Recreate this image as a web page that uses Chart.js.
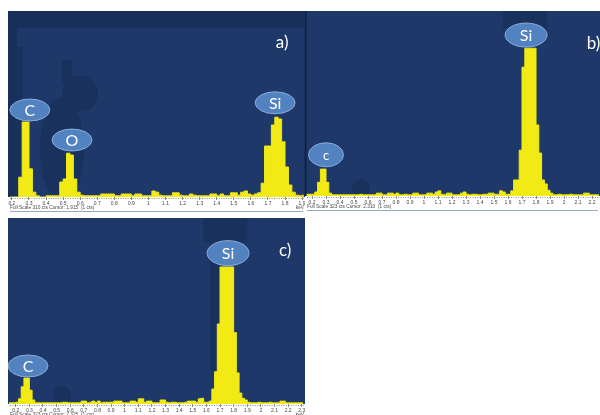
<!DOCTYPE html>
<html>
<head>
<meta charset="utf-8">
<script src="https://cdn.jsdelivr.net/npm/chart.js@4/dist/chart.umd.min.js"></script>
<style>
  html, body { margin: 0; padding: 0; background: #ffffff; }
  body { width: 600px; height: 415px; position: relative; overflow: hidden; }
  .panel { position: absolute; }
  .panel canvas { filter: blur(0.3px); }
</style>
</head>
<body>
<div class="panel" style="left:8px;top:11px;width:297px;height:202px"><canvas id="specA"></canvas></div>
<div class="panel" style="left:305px;top:11px;width:295px;height:201px"><canvas id="specB"></canvas></div>
<div class="panel" style="left:8px;top:218px;width:297px;height:197px"><canvas id="specC"></canvas></div>
<script>
// EDS spectra: counts per 20 eV channel, first channel centre given per spectrum
const CHANNEL_WIDTH = 0.02; // keV

// Spectrum a) — channels 0.19 … 1.91 keV
const aStart = 0.19;
const aCounts = [
  0, 0, 0, 33, 125, 125, 47, 8, 2, 0,
  0, 2, 2, 2, 2, 25, 30, 73, 70, 30,
  8, 3, 2, 2, 2, 2, 2, 5, 5, 5,
  5, 2, 2, 5, 5, 5, 2, 5, 5, 2,
  2, 2, 10, 8, 3, 2, 2, 2, 7, 7,
  3, 2, 2, 5, 3, 2, 2, 2, 2, 5,
  5, 2, 5, 2, 2, 7, 7, 3, 8, 10,
  5, 3, 5, 7, 23, 85, 85, 120, 133, 130,
  92, 50, 20, 8, 3, 2, 3
];

// Spectrum b) — channels 0.15 … 2.25 keV
const bStart = 0.15;
const bCounts = [
  3, 3, 3, 3, 7, 24, 47, 47, 24, 5,
  2, 2, 2, 2, 2, 2, 2, 2, 2, 2,
  3, 2, 2, 2, 2, 2, 5, 5, 2, 2,
  5, 5, 3, 5, 2, 2, 3, 2, 2, 5,
  5, 2, 2, 2, 5, 5, 3, 7, 9, 3,
  2, 5, 5, 2, 2, 2, 5, 7, 3, 2,
  3, 3, 2, 2, 3, 3, 5, 5, 3, 3,
  9, 7, 3, 3, 9, 28, 28, 80, 225, 258,
  258, 258, 258, 124, 75, 28, 21, 10, 5, 2,
  2, 3, 2, 2, 2, 3, 2, 2, 2, 2,
  5, 5, 2, 2, 2, 2
];

// Spectrum c) — channels 0.15 … 2.31 keV
const cStart = 0.15;
const cCounts = [
  2, 2, 2, 3, 9, 30, 45, 45, 24, 7,
  2, 2, 2, 2, 2, 2, 2, 2, 2, 2,
  3, 3, 2, 2, 2, 2, 2, 5, 5, 2,
  3, 5, 3, 5, 2, 3, 3, 3, 3, 5,
  5, 5, 2, 2, 2, 5, 5, 3, 9, 9,
  3, 5, 5, 2, 2, 2, 7, 7, 3, 2,
  3, 3, 2, 2, 2, 3, 5, 5, 5, 3,
  9, 10, 3, 3, 5, 26, 56, 139, 238, 238,
  238, 238, 238, 124, 54, 19, 10, 7, 3, 2,
  2, 2, 3, 2, 2, 2, 3, 2, 2, 2,
  5, 5, 2, 2, 2, 2, 2, 2, 2
];

// Energy axis tick labels (keV)
const aTickLabels = ['0.2','0.3','0.4','0.5','0.6','0.7','0.8','0.9','1','1.1','1.2','1.3','1.4','1.5','1.6','1.7','1.8','1.9'];
const bTickLabels = ['0.2','0.3','0.4','0.5','0.6','0.7','0.8','0.9','1','1.1','1.2','1.3','1.4','1.5','1.6','1.7','1.8','1.9','2','2.1','2.2'];
const cTickLabels = ['0.2','0.3','0.4','0.5','0.6','0.7','0.8','0.9','1','1.1','1.2','1.3','1.4','1.5','1.6','1.7','1.8','1.9','2','2.1','2.2','2.3'];

// Element labels placed at (energy keV, counts)
const aPeakLabels = [
  { text: 'C',  e: 0.305, c: 145 },
  { text: 'O',  e: 0.552, c: 95 },
  { text: 'Si', e: 1.742, c: 157 }
];
const bPeakLabels = [
  { text: 'c',  e: 0.300, c: 72, rx: 17.5, ry: 12, size: 13 },
  { text: 'Si', e: 1.729, c: 281, rx: 21, ry: 12 }
];
const cPeakLabels = [
  { text: 'C',  e: 0.290, c: 66 },
  { text: 'Si', e: 1.759, c: 262, rx: 21, ry: 12.5 }
];

const NAVY = '#1d3869';
const NAVY_DARK = '#172f5a';
const SHADE = '#19315d';
const YELLOW = '#f2ea14';
const BUBBLE = '#5282c0';
const BUBBLE_EDGE = 'rgba(150,182,228,0.85)';
const FONT = 'Lato, "Open Sans", sans-serif';

function channels(start, counts) {
  return counts.map((c, i) => ({ x: +(start + i * CHANNEL_WIDTH).toFixed(3), y: c }));
}

const spectrumDecor = {
  id: 'spectrumDecor',
  beforeDraw(chart, args, opts) {
    const { ctx, chartArea: a, scales: { x, y } } = chart;
    ctx.save();
    ctx.fillStyle = '#ffffff';
    ctx.fillRect(0, 0, chart.width, chart.height);
    ctx.fillStyle = opts.frame ? NAVY_DARK : NAVY;
    ctx.fillRect(a.left, a.top, a.right - a.left, a.bottom - a.top);
    if (opts.frame) {
      const x0 = x.getPixelForValue(opts.frame.e);
      const y0 = y.getPixelForValue(opts.frame.c);
      ctx.fillStyle = NAVY;
      ctx.fillRect(x0, y0, a.right - x0 - 1, a.bottom - y0);
    }
    ctx.restore();
  },
  beforeDatasetsDraw(chart, args, opts) {
    const { ctx, chartArea: a, scales: { x, y } } = chart;
    ctx.save();
    ctx.beginPath();
    ctx.rect(a.left, a.top, a.right - a.left, a.bottom - a.top);
    ctx.clip();
    ctx.fillStyle = SHADE;
    (opts.shades || []).forEach(s => {
      if (s.r !== undefined) {
        ctx.beginPath();
        ctx.ellipse(x.getPixelForValue(s.e), y.getPixelForValue(s.c), s.r, s.ry || s.r, 0, 0, Math.PI * 2);
        ctx.fill();
      } else {
        const x0 = x.getPixelForValue(s.e0), x1 = x.getPixelForValue(s.e1);
        const y0 = y.getPixelForValue(s.c1), y1 = y.getPixelForValue(s.c0);
        ctx.fillRect(x0, y0, x1 - x0, y1 - y0);
      }
    });
    ctx.restore();
  },
  afterDatasetsDraw(chart, args, opts) {
    const { ctx, chartArea: a, scales: { x, y } } = chart;
    ctx.save();
    // element bubbles
    (opts.labels || []).forEach(l => {
      const cx = x.getPixelForValue(l.e), cy = y.getPixelForValue(l.c);
      ctx.beginPath();
      ctx.ellipse(cx, cy, l.rx || 20, l.ry || 11, 0, 0, Math.PI * 2);
      ctx.fillStyle = BUBBLE;
      ctx.fill();
      ctx.lineWidth = 1;
      ctx.strokeStyle = BUBBLE_EDGE;
      ctx.stroke();
      ctx.fillStyle = '#ffffff';
      ctx.font = (l.size || 16) + 'px ' + FONT;
      ctx.textAlign = 'center';
      ctx.textBaseline = 'middle';
      ctx.fillText(l.text, cx, cy + 1);
    });
    // panel tag
    if (opts.tag) {
      ctx.fillStyle = '#ffffff';
      ctx.font = '17px ' + FONT;
      ctx.textAlign = 'center';
      ctx.textBaseline = 'middle';
      ctx.fillText(opts.tag.text, x.getPixelForValue(opts.tag.e), y.getPixelForValue(opts.tag.c));
    }
    if (opts.leftEdge) {
      ctx.fillStyle = '#0f2142';
      ctx.fillRect(a.left, a.top, 1.5, a.bottom - a.top);
    }
    // strip below the spectrum: channel tick row, status text, rule
    ctx.strokeStyle = '#8c8c8c';
    ctx.lineWidth = 1;
    ctx.setLineDash([1, 1.4]);
    ctx.beginPath();
    ctx.moveTo(a.left + 2, a.bottom + 1.5);
    ctx.lineTo(a.right, a.bottom + 1.5);
    ctx.stroke();
    ctx.setLineDash([]);
    ctx.fillStyle = '#4a4a4a';
    ctx.font = '4.8px "Liberation Sans", sans-serif';
    ctx.textAlign = 'left';
    ctx.textBaseline = 'middle';
    ctx.fillText(opts.footer, a.left + 2, a.bottom + 10.5);
    if (opts.unit) {
      ctx.textAlign = 'right';
      ctx.fillText(opts.unit, a.right - 1, a.bottom + 11);
    }
    if (opts.rule) {
      ctx.strokeStyle = '#8eaad2';
      ctx.beginPath();
      ctx.moveTo(a.left + 2, a.bottom + 14.5);
      ctx.lineTo(a.right - 2, a.bottom + 14.5);
      ctx.stroke();
    }
    ctx.restore();
  }
};

function makeSpectrum(id, cfg) {
  return new Chart(document.getElementById(id), {
    type: 'line',
    data: {
      datasets: [{
        data: channels(cfg.start, cfg.counts),
        stepped: 'middle',
        fill: 'origin',
        backgroundColor: YELLOW,
        borderColor: YELLOW,
        borderWidth: 1,
        pointRadius: 0,
        tension: 0
      }]
    },
    options: {
      responsive: true,
      maintainAspectRatio: false,
      animation: false,
      events: [],
      layout: { padding: 0 },
      plugins: {
        legend: { display: false },
        tooltip: { enabled: false },
        spectrumDecor: cfg.decor
      },
      scales: {
        x: {
          type: 'linear',
          min: cfg.min,
          max: cfg.max,
          offset: false,
          afterBuildTicks: s => { s.ticks = cfg.tickLabels.map(t => ({ value: parseFloat(t) })); },
          afterFit: s => { s.height = cfg.strip; s.paddingLeft = 0; s.paddingRight = 0; },
          ticks: {
            autoSkip: false,
            maxRotation: 0,
            minRotation: 0,
            padding: 0.5,
            color: '#444444',
            font: { size: 5, family: '"Liberation Sans", sans-serif' },
            callback: (v, i) => cfg.tickLabels[i]
          },
          grid: { drawOnChartArea: false, drawTicks: true, tickLength: 3, color: '#8c8c8c', lineWidth: 1 },
          border: { display: false }
        },
        y: { display: false, min: 0, max: cfg.fullScale }
      }
    },
    plugins: [spectrumDecor]
  });
}

makeSpectrum('specA', {
  start: aStart, counts: aCounts, tickLabels: aTickLabels,
  min: 0.177, max: 1.917, fullScale: 310, strip: 16,
  decor: {
    frame: { e: 0.229, c: 282 },
    shades: [
      { e0: 0.212, e1: 0.262, c0: 0, c1: 250 },
      { e0: 0.493, e1: 0.552, c0: 190, c1: 228 },
      { e: 0.599, c: 172, r: 18 },
      { e: 0.493, c: 80, r: 22, ry: 52 }
    ],
    labels: aPeakLabels,
    tag: { text: 'a)', e: 1.783, c: 257 },
    footer: 'Full Scale 310 cts Cursor: 1.915  (1 cts)',
    unit: 'keV',
    rule: true
  }
});

makeSpectrum('specB', {
  start: bStart, counts: bCounts, tickLabels: bTickLabels,
  min: 0.150, max: 2.257, fullScale: 323, strip: 16,
  decor: {
    leftEdge: true,
    shades: [
      { e: 0.55, c: 14, r: 9 },
      { e0: 1.564, e1: 1.879, c0: 293, c1: 330 }
    ],
    labels: bPeakLabels,
    tag: { text: 'b)', e: 2.21, c: 267 },
    footer: 'Full Scale 323 cts Cursor: 2.310  (1 cts)',
    rule: true
  }
});

makeSpectrum('specC', {
  start: cStart, counts: cCounts, tickLabels: cTickLabels,
  min: 0.143, max: 2.324, fullScale: 323, strip: 11,
  decor: {
    shades: [
      { e: 0.54, c: 16, r: 9 },
      { e0: 1.577, e1: 1.900, c0: 281, c1: 330 },
      { e0: 1.628, e1: 1.701, c0: 59, c1: 281 }
    ],
    labels: cPeakLabels,
    tag: { text: 'c)', e: 2.178, c: 267 },
    footer: 'Full Scale 323 cts Cursor: 2.325  (1 cts)',
    unit: 'keV',
    rule: false
  }
});
</script>
</body>
</html>
